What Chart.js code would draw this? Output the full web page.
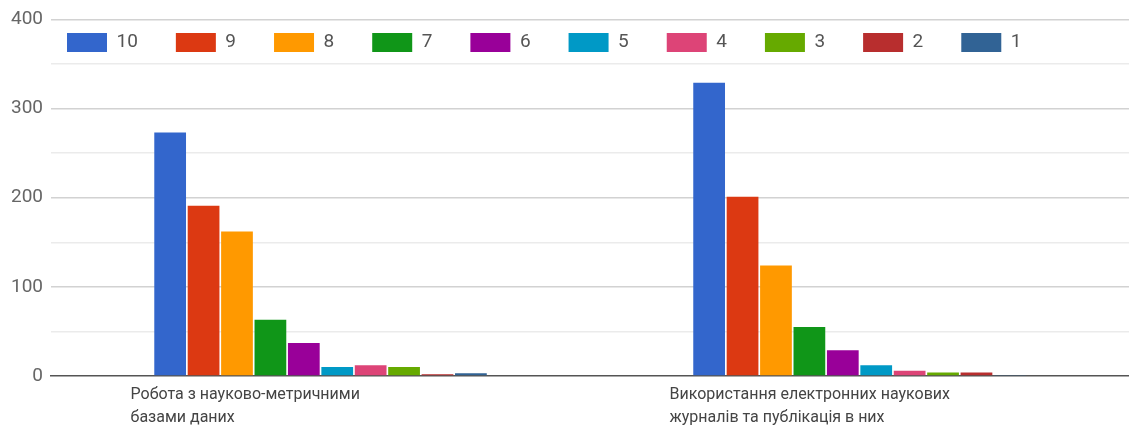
<!DOCTYPE html>
<html lang="uk">
<head>
<meta charset="utf-8">
<title>Оцінки за напрямами</title>
<script src="https://cdn.jsdelivr.net/npm/chart.js@4.4.1/dist/chart.umd.min.js"></script>
<style>
  html, body { margin: 0; padding: 0; background: #fff; overflow: hidden; }
  #wrap { position: relative; width: 1129px; height: 425px; }
</style>
</head>
<body>
<div id="wrap"><canvas id="chart"></canvas></div>
<script>
// оцінки 10..1 — порядок як у легенді
const scores = ['10', '9', '8', '7', '6', '5', '4', '3', '2', '1'];
const scoreColors = ['#3366cc', '#dc3912', '#ff9900', '#109618', '#990099',
                     '#0099c6', '#dd4477', '#66aa00', '#b82e2e', '#316395'];

const categories = [
  ['Робота з науково-метричними', 'базами даних'],
  ['Використання електронних наукових', 'журналів та публікація в них']
];

// кількість відповідей для кожної оцінки
const bazyDanykh = [273, 191, 162, 63, 37, 10, 12, 10, 2, 3];
const zhurnaly = [329, 201, 124, 55, 29, 12, 6, 4, 4, 1];

const yTicks = [0, 100, 200, 300, 400];

// легенда лежить усередині області графіка одним рядком
const legendPlacement = {
  id: 'legendPlacement',
  afterInit(chart) {
    const lg = chart.legend;
    lg.isHorizontal = () => true;
    const origFit = lg.fit;
    lg.fit = function () {
      this.maxWidth = 2000; // не переносити на другий рядок
      origFit.call(this);
    };
  },
  afterLayout(chart) {
    const lg = chart.legend;
    const pad = lg.options.labels.padding;
    lg.left = 67 - pad;
    lg.top = 33 - pad;
  }
};

const datasets = scores.map((s, i) => ({
  label: s,
  data: [bazyDanykh[i], zhurnaly[i]],
  backgroundColor: scoreColors[i],
  categoryPercentage: 0.62,
  barPercentage: 0.95
}));

new Chart(document.getElementById('chart'), {
  type: 'bar',
  data: { labels: categories, datasets },
  plugins: [legendPlacement],
  options: {
    responsive: true,
    maintainAspectRatio: false,
    animation: false,
    layout: { padding: { top: 7, left: 3, right: 0, bottom: 0 } },
    plugins: {
      tooltip: { enabled: false },
      legend: {
        position: 'chartArea',
        align: 'start',
        labels: {
          boxWidth: 40,
          boxHeight: 19,
          padding: 38,
          color: '#555',
          font: { family: 'Roboto', size: 19 }
        }
      }
    },
    scales: {
      x: {
        grid: { display: false, drawTicks: false },
        border: { display: true, color: '#555', width: 1.5 },
        // підписи зсунуті вліво через labelOffset, тож запас справа не потрібен
        afterFit(scale) {
          scale.paddingLeft = 0;
          scale.paddingRight = 0;
          scale.height = 49;
        },
        ticks: {
          autoSkip: false,
          maxRotation: 0,
          align: 'start',
          labelOffset: -190,
          padding: 7,
          color: '#444',
          font: { family: 'Roboto', size: 16, lineHeight: '23px' }
        }
      },
      y: {
        min: 0,
        max: yTicks[yTicks.length - 1],
        border: { display: false },
        grid: {
          drawTicks: false,
          lineWidth: 1.5,
          color: (ctx) => {
            if (ctx.tick.value === 0) return 'rgba(0,0,0,0)';
            return yTicks.includes(ctx.tick.value) ? '#d2d2d2' : '#ebebeb';
          }
        },
        ticks: {
          stepSize: 50,
          padding: 8,
          color: '#666',
          font: { family: 'Roboto', size: 19 },
          callback: (v) => (yTicks.includes(v) ? v : '')
        }
      }
    }
  }
});
</script>
</body>
</html>
